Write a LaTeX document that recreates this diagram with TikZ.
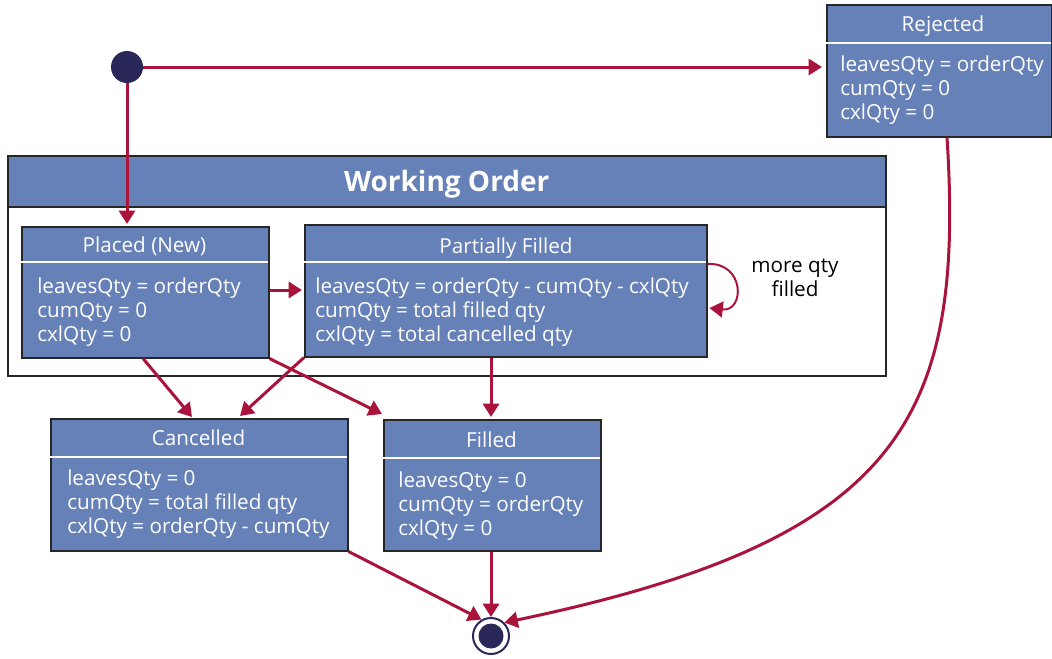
\documentclass[tikz,border=0pt]{standalone}
\usepackage{fontspec}
\setmainfont{Open Sans}
\usetikzlibrary{calc,arrows.meta}
\definecolor{boxblue}{HTML}{6680B8}
\definecolor{flowred}{HTML}{AA143C}
\definecolor{dotnavy}{HTML}{2A2759}
\newdimen\pxu \pxu=0.75pt
\tikzset{
	statebox/.style={draw=black!85, fill=boxblue, line width=1.5\pxu, anchor=north west, inner sep=0pt},
	sepline/.style={draw=white, line width=2\pxu},
	titletext/.style={text=white, anchor=base, inner sep=0pt, font=\fontsize{15.5}{18}\selectfont},
	bodytext/.style={text=white, anchor=north west, align=left, inner sep=0pt, font=\fontsize{15.5}{18}\selectfont},
	flow/.style={draw=flowred, line width=3\pxu, -{Triangle[length=10pt, width=12pt]}},
}
\begin{document}
\begin{tikzpicture}[x=0.75pt, y=-0.75pt]
			%%%%% START %%%%%
			\useasboundingbox (0,0) rectangle (1052,658);
			
			% working order container
			\node[draw=black!85, line width=1.5\pxu, anchor=north west, minimum width=878\pxu, minimum height=220\pxu, inner sep=0pt] (working) at (7,155) {};
			\node[statebox, minimum width=878\pxu, minimum height=51\pxu, text=white, text depth=0pt, font=\fontsize{21}{24}\bfseries] (workinghead) at (7,155) {Working Order};
			
			% pseudo states
			\node[circle, fill=dotnavy, minimum size=32\pxu, inner sep=0pt] (init) at (127,67) {};
			\node[circle, draw=dotnavy, fill=white, line width=2\pxu, minimum size=36\pxu, inner sep=0pt] (final) at (491,636) {};
			\node[circle, fill=dotnavy, minimum size=25\pxu, inner sep=0pt] (finaldot) at (491,636) {};
			
			% Rejected
			\node[statebox, minimum width=225\pxu, minimum height=132\pxu] (rejected) at (826,4) {};
			\draw[sepline] (826,43) -- (1051,43);
			\node[titletext] (rejectedtitle) at (943,31) {Rejected};
			\node[bodytext] (rejectedbody) at (840,56) {leavesQty = orderQty\\cumQty = 0\\cxlQty = 0};
			
			% Placed (New)
			\node[statebox, minimum width=247\pxu, minimum height=131\pxu] (placed) at (21,226) {};
			\draw[sepline] (21,262) -- (268,262);
			\node[titletext] (placedtitle) at (144.5,252) {Placed (New)};
			\node[bodytext] (placedbody) at (37,278) {leavesQty = orderQty\\cumQty = 0\\cxlQty = 0};
			
			% Partially Filled
			\node[statebox, minimum width=402\pxu, minimum height=132\pxu] (partial) at (304,224) {};
			\draw[sepline] (304,262) -- (706,262);
			\node[titletext] (partialtitle) at (506,253) {Partially Filled};
			\node[bodytext] (partialbody) at (315,278) {leavesQty = orderQty - cumQty - cxlQty\\cumQty = total filled qty\\cxlQty = total cancelled qty};
			\node[align=center, inner sep=0pt, font=\fontsize{15.5}{18}\selectfont] (looplabel) at (795,278) {more qty\\filled};
			
			% Cancelled
			\node[statebox, minimum width=297\pxu, minimum height=132\pxu] (cancelled) at (50,418) {};
			\draw[sepline] (50,457) -- (347,457);
			\node[titletext] (cancelledtitle) at (198.5,445) {Cancelled};
			\node[bodytext] (cancelledbody) at (67,470) {leavesQty = 0\\cumQty = total filled qty\\cxlQty = orderQty - cumQty};
			
			% Filled
			\node[statebox, minimum width=217\pxu, minimum height=131\pxu] (filled) at (383,419) {};
			\draw[sepline] (383,458) -- (600,458);
			\node[titletext] (filledtitle) at (491.5,447) {Filled};
			\node[bodytext] (filledbody) at (398,472) {leavesQty = 0\\cumQty = orderQty\\cxlQty = 0};
			
			% transitions
			\draw[flow, shorten >=4\pxu] (init.east) -- (rejected.west |- init);
			\draw[flow, shorten >=2\pxu] (init.south) -- (placed.north -| init);
			\draw[flow, shorten >=2\pxu] ($(placed.north east)+(0,64)$) -- ($(partial.north west)+(0,66)$);
			\draw[flow, line width=2\pxu] ($(partial.north east)+(0,40)$) .. controls (745,262) and (745,312) .. ($(partial.north east)+(2,84)$);
			\draw[flow] ($(placed.south west)+(122,0)$) -- ($(cancelled.north west)+(142,-1)$);
			\draw[flow] (partial.south west) -- ($(cancelled.north west)+(190,-2)$);
			\draw[flow] (placed.south east) -- ($(filled.north west)+(-1,-5)$);
			\draw[flow] ($(partial.south west)+(187,0)$) -- ($(filled.north west)+(108,-2)$);
			\draw[flow] (cancelled.south east) -- (final.120);
			\draw[flow] (filled.south -| final) -- (final.north);
			\draw[flow] ($(rejected.south west)+(121,0)$) .. controls (965,420) and (900,540) .. (final.45);
			
			%%%%% END %%%%%
		\end{tikzpicture}
\end{document}
